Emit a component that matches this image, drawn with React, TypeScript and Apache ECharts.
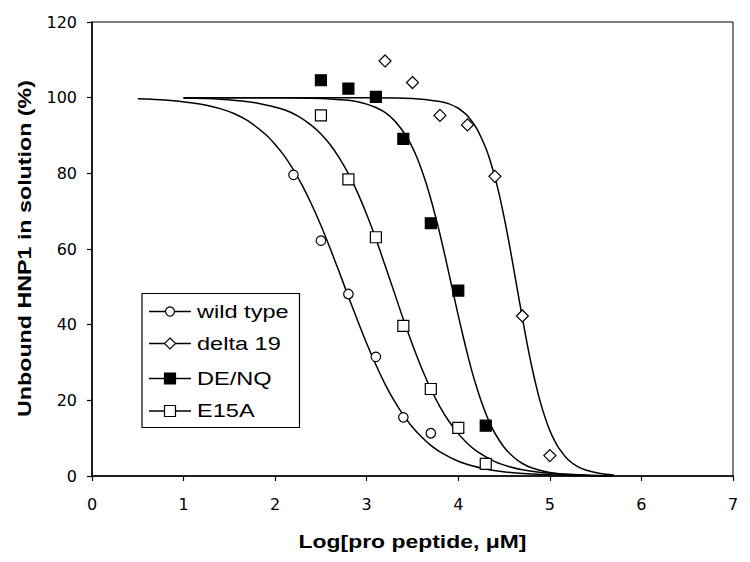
import React, { useEffect, useRef } from "react";
import * as echarts from "echarts";

// ---- axes ----
const xTickLabels = ["0", "1", "2", "3", "4", "5", "6", "7"];
const yTickLabels = ["0", "20", "40", "60", "80", "100", "120"];

// ---- series names ----
const seriesNames = ["wild type", "delta 19", "DE/NQ", "E15A"];

// ---- measured points ----
const wildTypeX = [2.2, 2.5, 2.8, 3.1, 3.4, 3.7];
const wildTypeY = [79.6, 62.2, 48.1, 31.5, 15.5, 11.3];

const delta19X = [3.2, 3.5, 3.8, 4.1, 4.4, 4.7, 5.0];
const delta19Y = [109.7, 104.0, 95.3, 92.8, 79.2, 42.3, 5.4];

const deNqX = [2.5, 2.8, 3.1, 3.4, 3.7, 4.0, 4.3];
const deNqY = [104.6, 102.4, 100.2, 89.1, 66.8, 49.0, 13.3];

const e15aX = [2.5, 2.8, 3.1, 3.4, 3.7, 4.0, 4.3];
const e15aY = [95.3, 78.4, 63.1, 39.7, 23.0, 12.7, 3.2];

// ---- fitted curves ----
const wildTypeCurveX = [0.5, 0.65, 0.8, 1.1, 1.25, 1.4, 1.55, 1.7, 1.9, 2.0, 2.1, 2.2, 2.3, 2.4, 2.5, 2.6, 2.7, 2.8, 2.9, 3.0, 3.1, 3.2, 3.3, 3.4, 3.5, 3.6, 3.7, 3.8, 4.0, 4.15, 4.3, 4.45, 4.6, 5.0, 5.4, 5.7];
const wildTypeCurveY = [99.7, 99.57, 99.4, 98.6, 98.0, 97.1, 95.8, 93.9, 90.2, 87.6, 84.6, 80.9, 76.6, 71.7, 66.2, 60.2, 53.9, 47.4, 41.1, 35.0, 29.4, 24.3, 19.9, 16.1, 12.9, 10.3, 8.1, 6.4, 3.9, 2.7, 1.85, 1.26, 0.86, 0.31, 0.11, 0.05];

const delta19CurveX = [1.0, 2.0, 3.0, 3.5, 3.8, 3.9, 4.0, 4.05, 4.1, 4.2, 4.3, 4.35, 4.4, 4.45, 4.5, 4.55, 4.6, 4.65, 4.7, 4.75, 4.8, 4.85, 4.9, 4.95, 5.0, 5.05, 5.1, 5.2, 5.3, 5.4, 5.55, 5.7];
const delta19CurveY = [100, 100, 99.99, 99.8, 99.0, 98.35, 97.2, 96.3, 95.2, 91.9, 86.7, 83.2, 79.0, 74.1, 68.4, 62.2, 55.5, 48.6, 41.8, 35.2, 29.2, 23.9, 19.2, 15.3, 12.0, 9.4, 7.3, 4.3, 2.54, 1.5, 0.65, 0.28];

const deNqCurveX = [1.0, 2.0, 2.5, 2.8, 2.9, 3.0, 3.1, 3.2, 3.3, 3.4, 3.45, 3.5, 3.55, 3.6, 3.65, 3.7, 3.75, 3.8, 3.85, 3.9, 3.95, 4.0, 4.05, 4.1, 4.15, 4.2, 4.25, 4.3, 4.35, 4.4, 4.5, 4.6, 4.7, 4.8, 5.0, 5.3, 5.7];
const deNqCurveY = [100, 99.98, 99.8, 99.3, 98.9, 98.3, 97.4, 96.1, 94.0, 91.0, 89.1, 86.8, 84.1, 80.9, 77.3, 73.2, 68.7, 63.9, 58.7, 53.3, 47.8, 42.4, 37.2, 32.2, 27.6, 23.5, 19.8, 16.5, 13.7, 11.3, 7.6, 5.1, 3.3, 2.2, 0.92, 0.25, 0.04];

const e15aCurveX = [1.0, 1.4, 1.6, 1.8, 2.1, 2.25, 2.4, 2.5, 2.6, 2.7, 2.8, 2.9, 3.0, 3.1, 3.2, 3.3, 3.4, 3.5, 3.6, 3.7, 3.8, 3.9, 4.0, 4.1, 4.2, 4.4, 4.55, 4.7, 5.0, 5.4, 5.7];
const e15aCurveY = [99.9, 99.6, 99.2, 98.6, 96.8, 95.1, 92.6, 90.4, 87.6, 84.1, 79.9, 74.9, 69.1, 62.7, 55.7, 48.6, 41.4, 34.7, 28.5, 23.0, 18.3, 14.4, 11.2, 8.6, 6.6, 3.8, 2.5, 1.65, 0.7, 0.22, 0.09];

const pair = (xs: number[], ys: number[]) => xs.map((x, i) => [x, ys[i]]);

const pointSets = [
  pair(wildTypeX, wildTypeY),
  pair(delta19X, delta19Y),
  pair(deNqX, deNqY),
  pair(e15aX, e15aY),
];
const curveSets = [
  pair(wildTypeCurveX, wildTypeCurveY),
  pair(delta19CurveX, delta19CurveY),
  pair(deNqCurveX, deNqCurveY),
  pair(e15aCurveX, e15aCurveY),
];

const markers = [
  { symbol: "circle", size: 9.5, fill: "#fff" },
  { symbol: "diamond", size: 12, fill: "#fff" },
  { symbol: "rect", size: 11, fill: "#000" },
  { symbol: "rect", size: 11, fill: "#fff" },
];

const FONT = "'Liberation Sans', Arial, Helvetica, sans-serif";

function legendGraphic() {
  const rows = [311.5, 343.5, 378.5, 411];
  const children: any[] = [
    {
      type: "rect",
      shape: { x: 142, y: 293.5, width: 157.5, height: 134 },
      style: { fill: "#fff", stroke: "#000", lineWidth: 1.2 },
    },
  ];
  seriesNames.forEach((name, i) => {
    const y = rows[i];
    children.push({
      type: "line",
      shape: { x1: 149, y1: y, x2: 191, y2: y },
      style: { stroke: "#000", lineWidth: 1.5 },
    });
    const m = markers[i];
    if (m.symbol === "circle") {
      children.push({
        type: "circle",
        shape: { cx: 170, cy: y, r: 4.5 },
        style: { fill: m.fill, stroke: "#000", lineWidth: 1.2 },
      });
    } else if (m.symbol === "diamond") {
      children.push({
        type: "polygon",
        shape: { points: [[170, y - 5.5], [175.5, y], [170, y + 5.5], [164.5, y]] },
        style: { fill: m.fill, stroke: "#000", lineWidth: 1.2 },
      });
    } else {
      children.push({
        type: "rect",
        shape: { x: 164.5, y: y - 5.5, width: 11, height: 11 },
        style: { fill: m.fill, stroke: "#000", lineWidth: 1.2 },
      });
    }
    children.push({
      type: "text",
      x: 197,
      y: y,
      scaleX: 1.24,
      style: {
        text: name,
        fontSize: 19,
        fontFamily: FONT,
        fill: "#000",
        textAlign: "left",
        align: "left",
        textVerticalAlign: "middle",
        verticalAlign: "middle",
      },
    });
  });
  return { type: "group", children };
}

export default function App() {
  const ref = useRef<HTMLDivElement>(null);

  useEffect(() => {
    if (!ref.current) return;
    const chart = echarts.init(ref.current, undefined, { renderer: "svg" });

    const lineSeries = curveSets.map((data, i) => ({
      type: "line",
      name: seriesNames[i] + " fit",
      data,
      symbol: "none",
      smooth: 0.3,
      lineStyle: { color: "#000", width: 1.5 },
      z: 2,
      silent: true,
    }));

    const scatterSeries = pointSets.map((data, i) => ({
      type: "scatter",
      name: seriesNames[i],
      data,
      symbol: markers[i].symbol,
      symbolSize: markers[i].size,
      itemStyle: { color: markers[i].fill, borderColor: "#000", borderWidth: 1.2, opacity: 1 },
      z: 3,
    }));

    chart.setOption({
      animation: false,
      backgroundColor: "#fff",
      grid: {
        left: 92,
        right: 17,
        top: 22,
        bottom: 86,
        show: true,
        borderColor: "#000",
        borderWidth: 1,
        backgroundColor: "transparent",
      },
      xAxis: {
        type: "value",
        min: Number(xTickLabels[0]),
        max: Number(xTickLabels[xTickLabels.length - 1]),
        interval: 1,
        axisLine: { show: true, onZero: false, lineStyle: { color: "#000", width: 1.5 } },
        axisTick: { show: true, inside: false, length: 5, lineStyle: { color: "#000", width: 1.2 } },
        axisLabel: { color: "#000", fontSize: 16, fontFamily: "'DejaVu Sans', sans-serif", margin: 20 },
        splitLine: { show: false },
      },
      yAxis: {
        type: "value",
        min: Number(yTickLabels[0]),
        max: Number(yTickLabels[yTickLabels.length - 1]),
        interval: 20,
        axisLine: { show: true, onZero: false, lineStyle: { color: "#000", width: 1.5 } },
        axisTick: { show: true, inside: false, length: 5, lineStyle: { color: "#000", width: 1.2 } },
        axisLabel: { color: "#000", fontSize: 16, fontFamily: "'DejaVu Sans', sans-serif", margin: 15 },
        splitLine: { show: false },
      },
      series: [...lineSeries, ...scatterSeries],
      graphic: [
        {
          type: "text",
          x: 24,
          y: 248.5,
          rotation: Math.PI / 2,
          scaleX: 1.257,
          style: {
            text: "Unbound HNP1 in solution (%)",
            fontSize: 18.5,
            fontWeight: "bold",
            fontFamily: FONT,
            fill: "#000",
            textAlign: "center",
            align: "center",
            textVerticalAlign: "middle",
            verticalAlign: "middle",
          },
        },
        {
          type: "text",
          x: 412.5,
          y: 541.5,
          scaleX: 1.24,
          style: {
            text: "Log[pro peptide, μM]",
            fontSize: 18.5,
            fontWeight: "bold",
            fontFamily: FONT,
            fill: "#000",
            textAlign: "center",
            align: "center",
            textVerticalAlign: "middle",
            verticalAlign: "middle",
          },
        },
        legendGraphic(),
      ],
    });

    return () => chart.dispose();
  }, []);

  return (
    <div
      ref={ref}
      style={{ position: "fixed", left: 0, top: 0, width: 750, height: 562, background: "#fff" }}
    />
  );
}
